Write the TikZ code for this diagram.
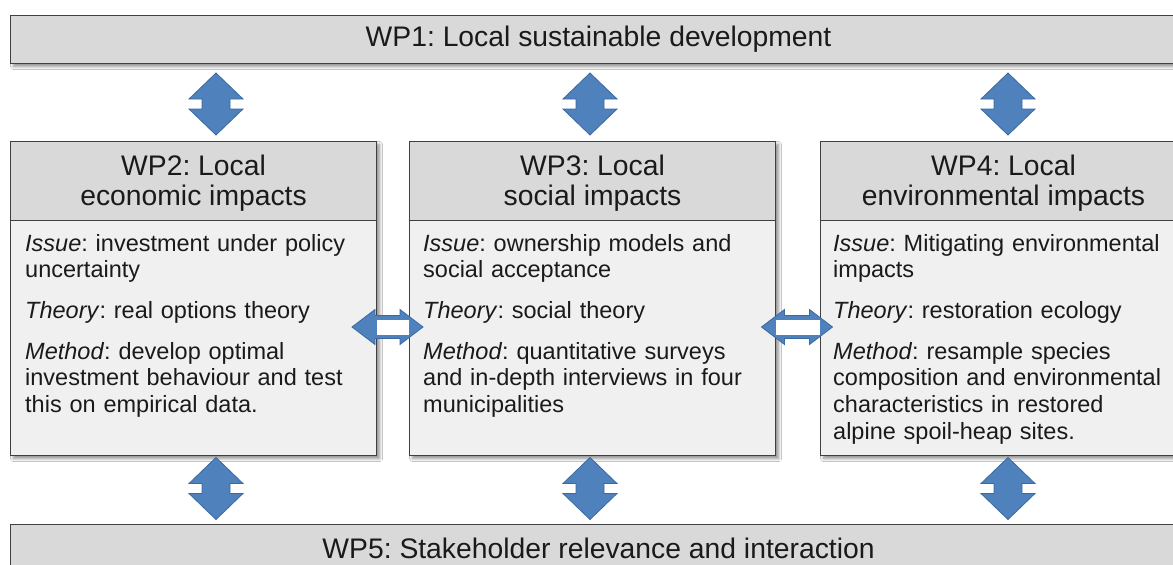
\documentclass[tikz,border=0pt]{standalone}
\usepackage{fontspec}
\setmainfont{Liberation Sans}
\usetikzlibrary{shadows.blur,calc}
\definecolor{hdrgray}{HTML}{D9D9D9}
\definecolor{bodygray}{HTML}{F0F0F0}
\definecolor{bordergray}{HTML}{404040}
\definecolor{arrowblue}{HTML}{4F81BD}
\definecolor{arrowedge}{HTML}{3A6AA3}
\definecolor{txt}{HTML}{1A1A1A}
\frenchspacing
\begin{document}
\begin{tikzpicture}[x=1pt,y=-1pt,
 softshadow/.style={blur shadow={shadow xshift=3pt, shadow yshift=-3pt, shadow blur steps=6, shadow blur radius=3pt, shadow opacity=45}},
 panel/.style={draw=bordergray, line width=1.1pt, fill=bodygray, minimum width=366pt, minimum height=314pt, anchor=north west, inner sep=0pt, softshadow},
 hdr/.style={draw=bordergray, line width=1.1pt, fill=hdrgray, minimum width=366pt, minimum height=79pt, anchor=north west, inner sep=0pt, align=center, font=\fontsize{28.3}{30}\selectfont, text=txt},
 hdrtext/.style={inner sep=0pt, align=center, font=\fontsize{28.3}{30}\selectfont, text=txt},
 bar/.style={draw=bordergray, line width=1.1pt, fill=hdrgray, minimum width=1176pt, minimum height=48pt, anchor=north west, inner sep=0pt, font=\fontsize{28.3}{30}\selectfont, text=txt, softshadow},
 bodytext/.style={anchor=north west, inner sep=0pt, text width=345pt, align=left, font=\fontsize{23.5}{26.7}\selectfont, text=txt},
 blk/.style={fill=arrowblue, draw=arrowedge, line width=0.8pt, line join=miter},
 vdarrow/.pic={\path[blk] (0,-31) -- (27,-5) -- (14,-5) -- (14,5) -- (27,5) -- (0,31) -- (-27,5) -- (-14,5) -- (-14,-5) -- (-27,-5) -- cycle;},
 hdarrow/.pic={\path[blk] (-35.5,0) -- (-12.5,-17.5) -- (-12.5,-11.5) -- (12.5,-11.5) -- (12.5,-17.5) -- (35.5,0) -- (12.5,17.5) -- (12.5,11.5) -- (-12.5,11.5) -- (-12.5,17.5) -- cycle;}
]
\useasboundingbox[fill=white] (0,0) rectangle (1173,565);

% bars
\node[bar] (wp1) at (10,15) {WP1: Local sustainable development};
\node[bar] (wp5) at (10,524) {WP5: Stakeholder relevance and interaction};

% panels
\node[panel] (wp2) at (10,141) {};
\node[panel] (wp3) at (409,141) {};
\node[panel] (wp4) at (820,141) {};

% headers
\node[hdr] (wp2h) at (wp2.north west) {};
\node[hdr] (wp3h) at (wp3.north west) {};
\node[hdr] (wp4h) at (wp4.north west) {};
\node[hdrtext] (wp2ht) at ($(wp2h.center)+(0,2)$) {WP2: Local\\economic impacts};
\node[hdrtext] (wp3ht) at ($(wp3h.center)+(0,2)$) {WP3: Local\\social impacts};
\node[hdrtext] (wp4ht) at ($(wp4h.center)+(0,2)$) {WP4: Local\\environmental impacts};

% body texts
\node[bodytext] (wp2t) at ($(wp2h.south west)+(15,12.8)$) {\textit{Issue}: investment under policy\\ uncertainty\\[14pt]
\textit{Theory}: real options theory\\[14pt]
\textit{Method}: develop optimal\\ investment behaviour and test\\ this on empirical data.};
\node[bodytext] (wp3t) at ($(wp3h.south west)+(14,12.8)$) {\textit{Issue}: ownership models and\\ social acceptance\\[14pt]
\textit{Theory}: social theory\\[14pt]
\textit{Method}: quantitative surveys\\ and in-depth interviews in four\\ municipalities};
\node[bodytext] (wp4t) at ($(wp4h.south west)+(13,12.8)$) {\textit{Issue}: Mitigating environmental\\ impacts\\[14pt]
\textit{Theory}: restoration ecology\\[14pt]
\textit{Method}: resample species\\ composition and environmental\\ characteristics in restored\\ alpine spoil-heap sites.};

% vertical double arrows
\coordinate (v1) at (216,104);
\coordinate (v2) at (590,104);
\coordinate (v3) at (1008,104);
\coordinate (v4) at (216,488.5);
\coordinate (v5) at (590,488.5);
\coordinate (v6) at (1008,488.5);
\foreach \c in {v1,v2,v3,v4,v5,v6} { \pic at (\c) {vdarrow}; }

% horizontal double arrows
\coordinate (h1) at (387.5,327);
\coordinate (h2) at (797,327);
\pic at (h1) {hdarrow};
\pic at (h2) {hdarrow};
\fill[white] ($(wp2.east |- h1)+(0,-7.5)$) rectangle ($(wp3.west |- h1)+(0,7.5)$);
\fill[white] ($(wp3.east |- h2)+(0,-7.5)$) rectangle ($(wp4.west |- h2)+(0,7.5)$);
\end{tikzpicture}
\end{document}
